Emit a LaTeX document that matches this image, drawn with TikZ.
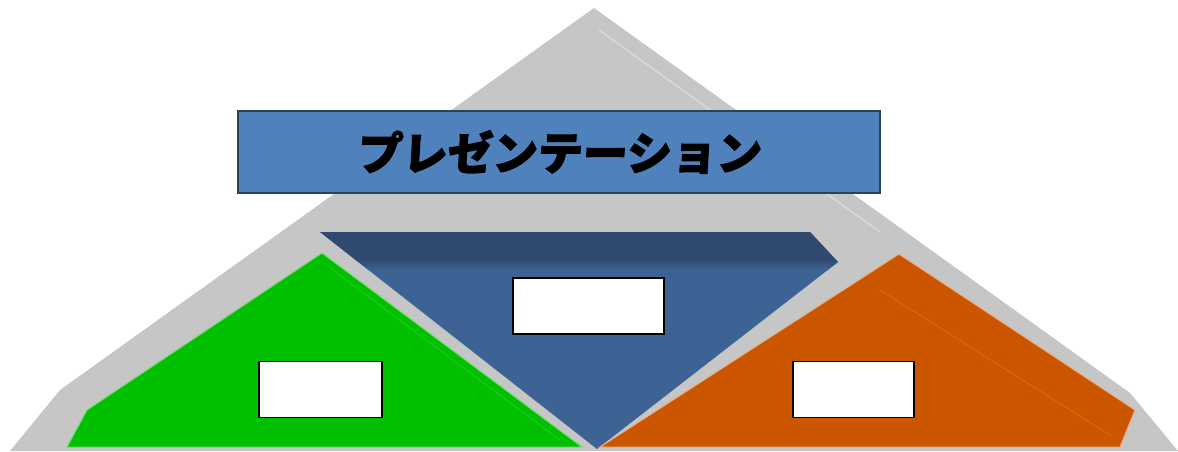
\documentclass[tikz,border=0pt]{standalone}
\usepackage{fontspec}
\newfontfamily\cjk[BoldFeatures={FakeBold=2.5,FakeSlant=0.06}]{Noto Sans CJK JP}
\definecolor{grayback}{RGB}{198,198,198}
\definecolor{grayhi}{RGB}{218,218,218}
\definecolor{bannerfill}{RGB}{79,129,189}
\definecolor{bannerline}{RGB}{45,65,95}
\definecolor{navy}{RGB}{61,99,148}
\definecolor{navydark}{RGB}{47,74,110}
\definecolor{leaf}{RGB}{0,192,0}
\definecolor{rust}{RGB}{204,85,0}
\begin{document}
\begin{tikzpicture}[x=1pt,y=-1pt,
  emptybox/.style={draw=black,line width=1.8pt,fill=white,inner sep=0pt,
    minimum width=#1,minimum height=56pt},
  bannerbox/.style={draw=bannerline,line width=1.2pt,fill=bannerfill,inner sep=0pt,
    minimum width=642pt,minimum height=82pt,
    font=\cjk\bfseries\fontsize{45}{48}\selectfont}]
\useasboundingbox (0,0) rectangle (1178,451);
% gray pyramid
\fill[grayback] (594,8) -- (1130,393) -- (1178,451) -- (10,451) -- (60,390) -- cycle;
\draw[grayhi,line width=1.5pt] (599,30) -- (880,232);
% navy inverted trapezoid
\begin{scope}
  \clip (320,232) -- (810,232) -- (838,262) -- (597,449) -- cycle;
  \fill[navy] (300,220) rectangle (860,451);
  \fill[navydark] (300,220) rectangle (860,260);
  \shade[top color=navydark,bottom color=navy] (300,259) rectangle (860,270);
\end{scope}
% green
\fill[leaf,draw=leaf!55!white,line width=1pt]
  (322,253) -- (582,447) -- (67,447) -- (87,410) -- cycle;
\draw[leaf!85!white,line width=0.8pt] (330,268) -- (560,440);
% orange
\fill[rust,draw=rust!45!white,line width=1pt]
  (899,254) -- (1135,410) -- (1120,447) -- (600,447) -- cycle;
\draw[rust!85!white,line width=0.8pt] (880,290) -- (1113,437);
% banner
\node[bannerbox] (title) at (559,152) {プレゼンテーション};
% empty boxes
\node[emptybox=151pt] (mid) at (588.5,306) {};
\node[emptybox=123pt] (left) at (320.5,389.5) {};
\node[emptybox=121pt] (right) at (853.5,389.5) {};
\end{tikzpicture}
\end{document}
